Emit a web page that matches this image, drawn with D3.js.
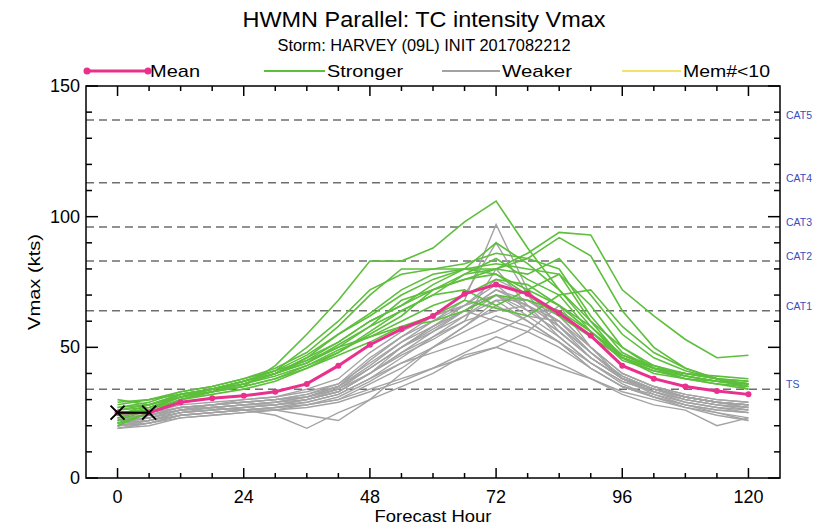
<!DOCTYPE html>
<html lang="en">
<head>
<meta charset="utf-8">
<script src="https://d3js.org/d3.v7.min.js"></script>
<style>
  body { margin: 0; background: #fff; }
  svg text { font-family: "Liberation Sans", Arial, sans-serif; fill: #000; }
  .cat { fill: #3b4cc0; font-size: 10.5px; }
</style>
<title>HWMN Parallel: TC intensity Vmax</title>
</head>
<body>
<svg id="chart" width="826" height="527"></svg>
<script>
// forecast hours, every 6 h
const hours = d3.range(0, 121, 6);

// ensemble members stronger than the mean
const stronger = [
  [26,28,31,33,35,43,55,68,83,83,88,98,106,88,72,60,50,43,39,37,36],
  [24,27,31,33,36,40,46,55,62,70,76,80,80,86,94,93,72,62,53,46,47],
  [22,26,32,34,37,41,50,60,72,78,80,80,82,80,78,60,46,40,38,37,36],
  [28,30,33,35,38,42,48,58,70,80,80,82,86,84,80,62,48,42,40,39,38],
  [30,28,32,34,36,40,45,52,60,66,74,80,90,82,72,58,46,42,39,37,35],
  [25,26,31,34,37,40,44,50,58,64,70,78,80,84,92,85,64,50,42,38,36],
  [21,25,30,33,35,38,43,48,55,62,72,78,84,76,70,56,45,41,38,36,34],
  [27,29,33,35,38,41,47,55,63,72,78,80,78,72,66,56,47,43,40,38,37],
  [23,26,30,32,34,37,42,48,56,64,70,72,66,72,78,66,50,42,38,36,35],
  [29,30,32,34,37,40,44,51,58,68,72,76,80,78,84,70,55,46,41,38,37],
  [26,27,31,33,35,38,42,47,52,58,62,68,65,62,70,72,58,48,42,38,35],
  [24,28,32,34,36,39,43,49,54,60,66,70,76,74,66,58,47,42,40,38,34],
  [20,25,30,33,36,40,46,52,60,66,72,76,78,70,62,54,46,42,40,38,36],
  [27,28,31,34,37,41,45,50,54,58,60,64,70,68,64,56,46,41,39,37,36]
];

// ensemble members weaker than the mean
const weaker = [
  [22,23,26,27,28,28,30,33,40,48,56,64,72,66,58,48,38,34,31,29,28],
  [20,22,25,26,27,28,29,32,38,46,54,62,70,62,54,44,37,33,30,28,27],
  [19,21,24,25,26,27,28,30,36,42,50,58,66,60,52,42,35,32,29,27,26],
  [23,24,27,28,29,30,31,34,40,50,58,66,74,64,56,46,38,34,31,29,28],
  [21,23,26,27,26,24,19,25,30,35,40,47,50,46,42,38,33,30,27,25,22],
  [20,22,24,25,26,26,24,22,30,40,50,58,68,60,52,42,35,31,28,26,25],
  [24,25,28,29,30,31,33,36,44,52,60,68,97,72,58,46,38,34,31,29,28],
  [22,23,26,28,29,30,32,36,46,54,62,70,90,70,56,46,38,34,31,29,28],
  [21,22,25,26,27,28,30,34,42,50,58,64,60,56,50,42,35,31,28,26,25],
  [23,24,27,28,30,31,34,38,48,56,62,66,70,64,56,46,38,34,31,29,28],
  [20,21,24,25,26,27,29,32,38,44,48,52,56,62,60,48,38,33,29,27,25],
  [19,20,23,24,25,26,28,30,34,38,42,46,50,56,66,50,38,32,28,25,23],
  [22,24,27,28,29,30,31,34,42,50,56,62,68,68,62,50,40,35,32,30,29],
  [21,23,25,27,28,29,30,33,40,48,54,60,64,66,60,48,39,34,30,28,27],
  [20,21,24,25,26,27,28,31,37,44,50,56,62,58,52,44,36,31,27,24,22],
  [23,24,26,27,28,29,31,35,43,52,58,64,72,68,60,50,40,35,32,30,29],
  [22,23,26,27,28,29,31,35,45,54,60,66,76,70,62,50,40,35,31,29,27],
  [19,21,23,24,25,26,27,29,33,37,42,48,54,50,44,38,32,28,26,20,23],
  [21,22,25,26,27,28,30,33,40,47,53,60,80,66,54,44,37,33,30,28,26],
  [24,25,27,28,29,30,32,35,42,50,57,64,70,66,58,48,39,34,31,29,28]
];

// ensemble mean
const mean = [25,25,29,30.5,31.5,33,36,43,51,57,62,70.5,74,70.5,63,54.5,43,38,35,33.3,32];

// observed (best track) points
const obsHours = [0, 6];
const obs = [25, 25];

// intensity category thresholds
const catNames = ["TS", "CAT1", "CAT2", "CAT3", "CAT4", "CAT5"];
const catValues = [34, 64, 83, 96, 113, 137];

const xTicks = [0, 24, 48, 72, 96, 120];
const yTicks = [0, 50, 100, 150];
const legendNames = ["Mean", "Stronger", "Weaker", "Mem#<10"];

const pink = "#e8308c", green = "#5dbf3c", gray = "#a3a3a3", yellow = "#f2e46a";

const svg = d3.select("#chart");
const pLeft = 86, pRight = 780, pTop = 86, pBottom = 478;

const x = d3.scaleLinear().domain([-6, 126]).range([pLeft, pRight]);
const y = d3.scaleLinear().domain([0, 150]).range([pBottom, pTop]);

// titles
svg.append("text").attr("x", 424).attr("y", 27).attr("text-anchor", "middle")
  .attr("textLength", 363).attr("lengthAdjust", "spacingAndGlyphs")
  .style("font-size", "22px").text("HWMN Parallel: TC intensity Vmax");
svg.append("text").attr("x", 424).attr("y", 51).attr("text-anchor", "middle")
  .attr("textLength", 293).attr("lengthAdjust", "spacingAndGlyphs")
  .style("font-size", "16px").text("Storm: HARVEY (09L) INIT 2017082212");

// legend
const legend = [
  { name: legendNames[0], color: pink, x1: 87, x2: 148, dots: true, w: 50 },
  { name: legendNames[1], color: green, x1: 264, x2: 325, w: 76 },
  { name: legendNames[2], color: gray, x1: 442, x2: 500, w: 70 },
  { name: legendNames[3], color: yellow, x1: 622, x2: 681, w: 87 }
];
const lg = svg.append("g");
legend.forEach(d => {
  lg.append("line").attr("x1", d.x1).attr("x2", d.x2).attr("y1", 71).attr("y2", 71)
    .attr("stroke", d.color).attr("stroke-width", d.dots ? 3 : 2);
  if (d.dots) {
    [d.x1, d.x2].forEach(cx => lg.append("circle").attr("cx", cx).attr("cy", 71).attr("r", 3.5).attr("fill", pink));
  }
  lg.append("text").attr("x", d.x2 + 2).attr("y", 77)
    .attr("textLength", d.w).attr("lengthAdjust", "spacingAndGlyphs")
    .style("font-size", "17px").text(d.name);
});

// category lines
const cats = svg.append("g");
catValues.forEach((v, i) => {
  cats.append("line").attr("x1", pLeft).attr("x2", pRight).attr("y1", y(v)).attr("y2", y(v))
    .attr("stroke", "#6e6e6e").attr("stroke-width", 1.5).attr("stroke-dasharray", "8,5");
  cats.append("text").attr("class", "cat").attr("x", 786).attr("y", y(v) - 1).text(catNames[i]);
});

const line = d3.line().x((d, i) => x(hours[i])).y(d => y(d));

svg.append("clipPath").attr("id", "clip").append("rect")
  .attr("x", pLeft).attr("y", pTop).attr("width", pRight - pLeft).attr("height", pBottom - pTop);
const plot = svg.append("g").attr("clip-path", "url(#clip)");

plot.selectAll(".weak").data(weaker).enter().append("path")
  .attr("d", line).attr("fill", "none").attr("stroke", gray).attr("stroke-width", 1.4);
plot.selectAll(".strong").data(stronger).enter().append("path")
  .attr("d", line).attr("fill", "none").attr("stroke", green).attr("stroke-width", 1.6);

plot.append("path").datum(mean).attr("d", line).attr("fill", "none")
  .attr("stroke", pink).attr("stroke-width", 3);
plot.selectAll(".mdot").data(mean).enter().append("circle")
  .attr("cx", (d, i) => x(hours[i])).attr("cy", d => y(d)).attr("r", 3).attr("fill", pink);

// observed track with X markers
plot.append("path").datum(obs)
  .attr("d", d3.line().x((d, i) => x(obsHours[i])).y(d => y(d)))
  .attr("stroke", "#000").attr("stroke-width", 2).attr("fill", "none");
obs.forEach((v, i) => {
  const cx = x(obsHours[i]), cy = y(v), s = 7;
  plot.append("path").attr("d", `M${cx - s},${cy - s}L${cx + s},${cy + s}M${cx - s},${cy + s}L${cx + s},${cy - s}`)
    .attr("stroke", "#000").attr("stroke-width", 2);
});

// axes: IDL-style box with inward ticks
const axes = svg.append("g").attr("stroke", "#000").attr("stroke-width", 1.5);
axes.append("rect").attr("x", pLeft).attr("y", pTop).attr("width", pRight - pLeft).attr("height", pBottom - pTop)
  .attr("fill", "none");

d3.range(0, 121, 6).forEach(h => {
  const len = h % 24 === 0 ? 10 : 5;
  axes.append("line").attr("x1", x(h)).attr("x2", x(h)).attr("y1", pBottom).attr("y2", pBottom - len);
  axes.append("line").attr("x1", x(h)).attr("x2", x(h)).attr("y1", pTop).attr("y2", pTop + len);
});
d3.range(0, 151, 10).forEach(v => {
  const len = v % 50 === 0 ? 12 : 6;
  axes.append("line").attr("x1", pLeft).attr("x2", pLeft + len).attr("y1", y(v)).attr("y2", y(v));
  axes.append("line").attr("x1", pRight).attr("x2", pRight - len).attr("y1", y(v)).attr("y2", y(v));
});

svg.selectAll(".xt").data(xTicks).enter().append("text")
  .attr("x", d => x(d)).attr("y", 503).attr("text-anchor", "middle")
  .style("font-size", "18px").text(d => d);
svg.selectAll(".yt").data(yTicks).enter().append("text")
  .attr("x", 80).attr("y", d => y(d) + 6).attr("text-anchor", "end")
  .style("font-size", "18px").text(d => d);

svg.append("text").attr("x", x(60)).attr("y", 522).attr("text-anchor", "middle")
  .attr("textLength", 117).attr("lengthAdjust", "spacingAndGlyphs")
  .style("font-size", "17px").text("Forecast Hour");
svg.append("text").attr("transform", `translate(40,${(pTop + pBottom) / 2}) rotate(-90)`)
  .attr("text-anchor", "middle").attr("textLength", 96).attr("lengthAdjust", "spacingAndGlyphs")
  .style("font-size", "17px").text("Vmax (kts)");
</script>
</body>
</html>
